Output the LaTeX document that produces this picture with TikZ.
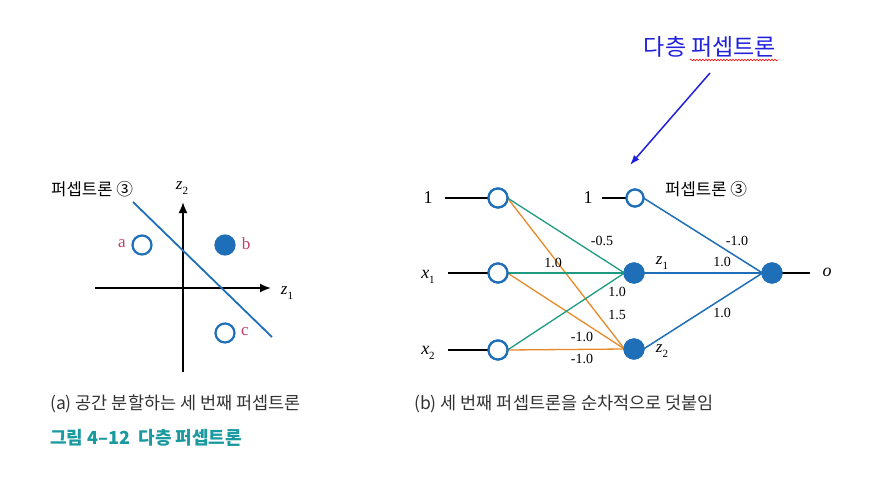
\documentclass[tikz,border=0pt]{standalone}
\usepackage{fontspec}
\setmainfont{Liberation Serif}
\newfontfamily\kr{Noto Sans CJK KR}
\usetikzlibrary{arrows.meta,decorations.pathmorphing}
\definecolor{nblue}{HTML}{1E6EB8}
\definecolor{tealc}{HTML}{1E9A80}
\definecolor{orng}{HTML}{E8892A}
\definecolor{pnk}{HTML}{C83A6A}
\definecolor{capt}{HTML}{1A9AA0}
\definecolor{annot}{HTML}{2020DD}
\definecolor{dgray}{HTML}{333333}
\newcommand{\zsub}[2]{{\itshape #1}\raisebox{-5pt}{\fontsize{11}{11}\selectfont #2}}
\begin{document}
\begin{tikzpicture}[x=1pt,y=-1pt,
  unit/.style={circle,draw=nblue,line width=2.2pt,fill=white,minimum size=19pt,inner sep=0pt,outer sep=0pt},
  smallunit/.style={unit,minimum size=17pt},
  fullunit/.style={unit,fill=nblue},
  wlab/.style={font=\fontsize{14}{14}\selectfont,inner sep=0pt},
  inlab/.style={font=\fontsize{18}{18}\selectfont,inner sep=0pt},
  krlab/.style={font=\kr\fontsize{16.7}{16.7}\selectfont,inner sep=0pt},
  caplab/.style={font=\kr\fontsize{17.5}{17.5}\selectfont,inner sep=0pt,text=dgray},
  ptlab/.style={font=\fontsize{17}{17}\selectfont,text=pnk,inner sep=0pt},
  tedge/.style={tealc,line width=1.3pt},
  oedge/.style={orng,line width=1.3pt},
  bedge/.style={nblue,line width=1.5pt},
  kedge/.style={black,line width=1.6pt},
  axis/.style={black,line width=1.8pt,-{Latex[length=11pt,width=9pt]}}
]
\useasboundingbox (0,0) rectangle (871,498);

% ---------- left panel ----------
\coordinate (ax1s) at (95,288);
\coordinate (ax1e) at (271,288);
\coordinate (ax2s) at (183,372);
\coordinate (ax2e) at (183,202);
\draw[axis] (ax1s) -- (ax1e);
\draw[axis] (ax2s) -- (ax2e);
\node[inlab,font=\fontsize{17}{17}\selectfont] (z1ax) at (287,293) {\zsub{z}{1}};
\node[inlab,font=\fontsize{17}{17}\selectfont] (z2ax) at (182,188) {\zsub{z}{2}};
\coordinate (ls) at (133,202);
\coordinate (le) at (272,337);
\draw[bedge,line width=1.8pt] (ls) -- (le);
\node[krlab,anchor=west] (p3a) at (51,189) {퍼셉트론 ③};
\node[unit] (pa) at (142,245) {};
\node[fullunit] (pb) at (225,245) {};
\node[unit] (pc) at (225,333) {};
\node[ptlab] (la) at (122,244) {a};
\node[ptlab] (lb) at (246,244) {b};
\node[ptlab] (lc) at (245,332) {c};

% ---------- right panel ----------
\node[inlab] (t1) at (428,198) {1};
\node[inlab] (tx1) at (428,277) {\zsub{x}{1}};
\node[inlab] (tx2) at (428,353) {\zsub{x}{2}};
\node[unit] (i0) at (498,198) {};
\node[unit] (i1) at (498,273) {};
\node[unit] (i2) at (498,350) {};
\draw[kedge] (t1.east) ++(12,0) coordinate (c0) -- (i0.west);
\draw[kedge] (448,273) coordinate (c1) -- (i1.west);
\draw[kedge] (448,350) coordinate (c2) -- (i2.west);

\node[inlab] (hb1) at (588,198) {1};
\node[smallunit] (hb) at (635,198) {};
\draw[kedge] (hb1.east) ++(9,0) coordinate (c3) -- (hb.west);
\node[krlab,anchor=west] (p3b) at (665,189) {퍼셉트론 ③};

\node[fullunit] (h1) at (634,273) {};
\node[fullunit] (h2) at (634,349) {};
\node[fullunit] (out) at (772,273) {};
\coordinate (oend) at (810,273);
\draw[kedge] (out.east) -- (oend);
\node[inlab,font=\itshape\fontsize{18}{18}\selectfont] (olab) at (827,272) {o};

% edges to hidden
\draw[oedge] (i0.east) -- (h2.west);
\draw[oedge] (i1.east) -- (h2.west);
\draw[oedge] (i2.east) -- (h2.west);
\draw[tedge] (i0.east) -- (h1.west);
\draw[tedge] (i1.east) -- (h1.west);
\draw[tedge] (i2.east) -- (h1.west);
% edges to output
\draw[bedge] (hb.east) -- (out.west);
\draw[bedge] (h1.east) -- (out.west);
\draw[bedge] (h2.east) -- (out.west);
% re-draw nodes on top
\node[smallunit] at (hb) {};
\node[fullunit] at (h1) {};
\node[fullunit] at (h2) {};
\node[fullunit] at (out) {};
\node[unit] at (i0) {};
\node[unit] at (i1) {};
\node[unit] at (i2) {};

\node[inlab,font=\fontsize{17}{17}\selectfont] (z1h) at (662,263) {\zsub{z}{1}};
\node[inlab,font=\fontsize{17}{17}\selectfont] (z2h) at (662,351) {\zsub{z}{2}};

% weights
\node[wlab] (w1) at (602,241) {-0.5};
\node[wlab] (w2) at (553,263) {1.0};
\node[wlab] (w3) at (617,292) {1.0};
\node[wlab] (w4) at (617,315) {1.5};
\node[wlab] (w5) at (582,337) {-1.0};
\node[wlab] (w6) at (582,359) {-1.0};
\node[wlab] (w7) at (737,241) {-1.0};
\node[wlab] (w8) at (722,262) {1.0};
\node[wlab] (w9) at (722,313) {1.0};

% annotation
\node[inner sep=0pt,font=\kr\fontsize{23}{23}\selectfont,text=annot] (ann) at (710,47) {다층 퍼셉트론};
\coordinate (wavs) at (690,60);
\coordinate (wave) at (778,60);
\draw[red,line width=0.6pt,decorate,decoration={snake,amplitude=0.8pt,segment length=3pt}] (wavs) -- (wave);
\coordinate (arrs) at (710,73);
\coordinate (arre) at (630,165);
\draw[annot,line width=1.5pt,-{Latex[length=10pt,width=7pt]}] (arrs) -- (arre);

% captions
\node[caplab,anchor=west] (capa) at (50,404) {(a) 공간 분할하는 세 번째 퍼셉트론};
\node[caplab,anchor=west] (capb) at (414,404) {(b) 세 번째 퍼셉트론을 순차적으로 덧붙임};
\node[caplab,anchor=west,text=capt,font=\kr\bfseries\fontsize{18}{18}\selectfont] (fig) at (50,438) {그림 4–12\ \ 다층 퍼셉트론};
\end{tikzpicture}
\end{document}
